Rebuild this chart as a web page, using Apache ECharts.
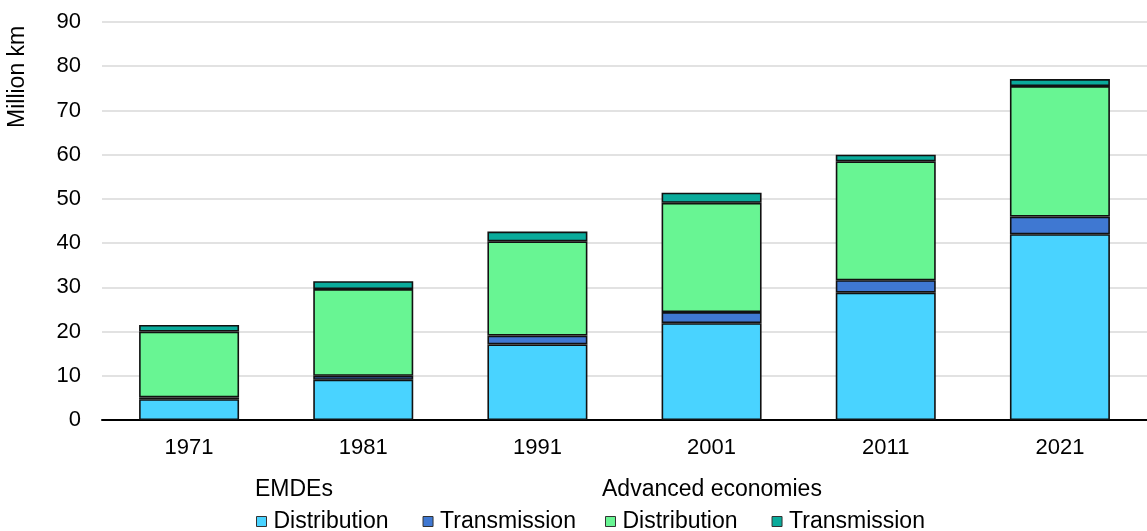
<!DOCTYPE html>
<html>
<head>
<meta charset="utf-8">
<script src="https://cdn.jsdelivr.net/npm/echarts@6/dist/echarts.min.js"></script>
<style>
html,body{margin:0;padding:0;background:#fff;}
#chart{width:1147px;height:531px;}
</style>
</head>
<body>
<div id="chart"></div>
<script>
const categories = ['1971', '1981', '1991', '2001', '2011', '2021'];
const emdeDistribution = [4.7, 9.1, 17.1, 21.9, 28.8, 42.0];
const emdeTransmission = [0.4, 0.9, 2.0, 2.5, 2.8, 4.0];
const advDistribution = [14.9, 19.6, 21.3, 24.7, 26.9, 29.5];
const advTransmission = [1.5, 1.8, 2.2, 2.3, 1.5, 1.6];
const yTicks = [0, 10, 20, 30, 40, 50, 60, 70, 80, 90];

const FONT = 'Liberation Sans, Arial, sans-serif';
const FS = 23;

const chart = echarts.init(document.getElementById('chart'));

function bar(name, data, color) {
  return {
    name: name,
    type: 'bar',
    stack: 'total',
    barWidth: 100,
    data: data,
    itemStyle: { color: color, borderColor: '#111', borderWidth: 1.6 }
  };
}

chart.setOption({
  animation: false,
  textStyle: { fontFamily: FONT },
  grid: { left: 102, top: 22, bottom: 111, width: 1051, containLabel: false },
  xAxis: {
    type: 'category',
    data: categories,
    axisLine: { lineStyle: { color: '#000', width: 2 } },
    axisTick: { show: false },
    axisLabel: { color: '#000', fontSize: 22, fontFamily: FONT, margin: 17 }
  },
  yAxis: {
    type: 'value',
    min: yTicks[0],
    max: yTicks[yTicks.length - 1],
    interval: 10,
    axisLine: { show: false },
    axisTick: { show: false },
    axisLabel: { color: '#000', fontSize: 22, fontFamily: FONT, margin: 21 },
    splitLine: { lineStyle: { color: '#d9d9d9', width: 1.5 } }
  },
  legend: [
    {
      left: 256, top: 510,
      icon: 'rect', itemWidth: 10, itemHeight: 10, itemGap: 34,
      data: ['EMDEs Distribution', 'EMDEs Transmission'],
      formatter: n => n.replace('EMDEs ', ''),
      textStyle: { color: '#000', fontSize: FS, fontFamily: FONT, padding: [0, 0, 0, 2] },
      itemStyle: { borderColor: '#333', borderWidth: 1 },
      padding: 0, selectedMode: false
    },
    {
      left: 605, top: 510,
      icon: 'rect', itemWidth: 10, itemHeight: 10, itemGap: 34,
      data: ['Advanced Distribution', 'Advanced Transmission'],
      formatter: n => n.replace('Advanced ', ''),
      textStyle: { color: '#000', fontSize: FS, fontFamily: FONT, padding: [0, 0, 0, 2] },
      itemStyle: { borderColor: '#333', borderWidth: 1 },
      padding: 0, selectedMode: false
    }
  ],
  graphic: [
    { type: 'text', left: 255, top: 478, style: { text: 'EMDEs', fill: '#000', font: FS + 'px ' + FONT } },
    { type: 'text', left: 602, top: 478, style: { text: 'Advanced economies', fill: '#000', font: FS + 'px ' + FONT } },
    { type: 'text', x: 6, y: 128, rotation: Math.PI / 2, style: { text: 'Million km', fill: '#000', font: FS + 'px ' + FONT } }
  ],
  series: [
    bar('EMDEs Distribution', emdeDistribution, '#49d3ff'),
    bar('EMDEs Transmission', emdeTransmission, '#3f78d2'),
    bar('Advanced Distribution', advDistribution, '#68f593'),
    bar('Advanced Transmission', advTransmission, '#0aab9b')
  ]
});
</script>
</body>
</html>
